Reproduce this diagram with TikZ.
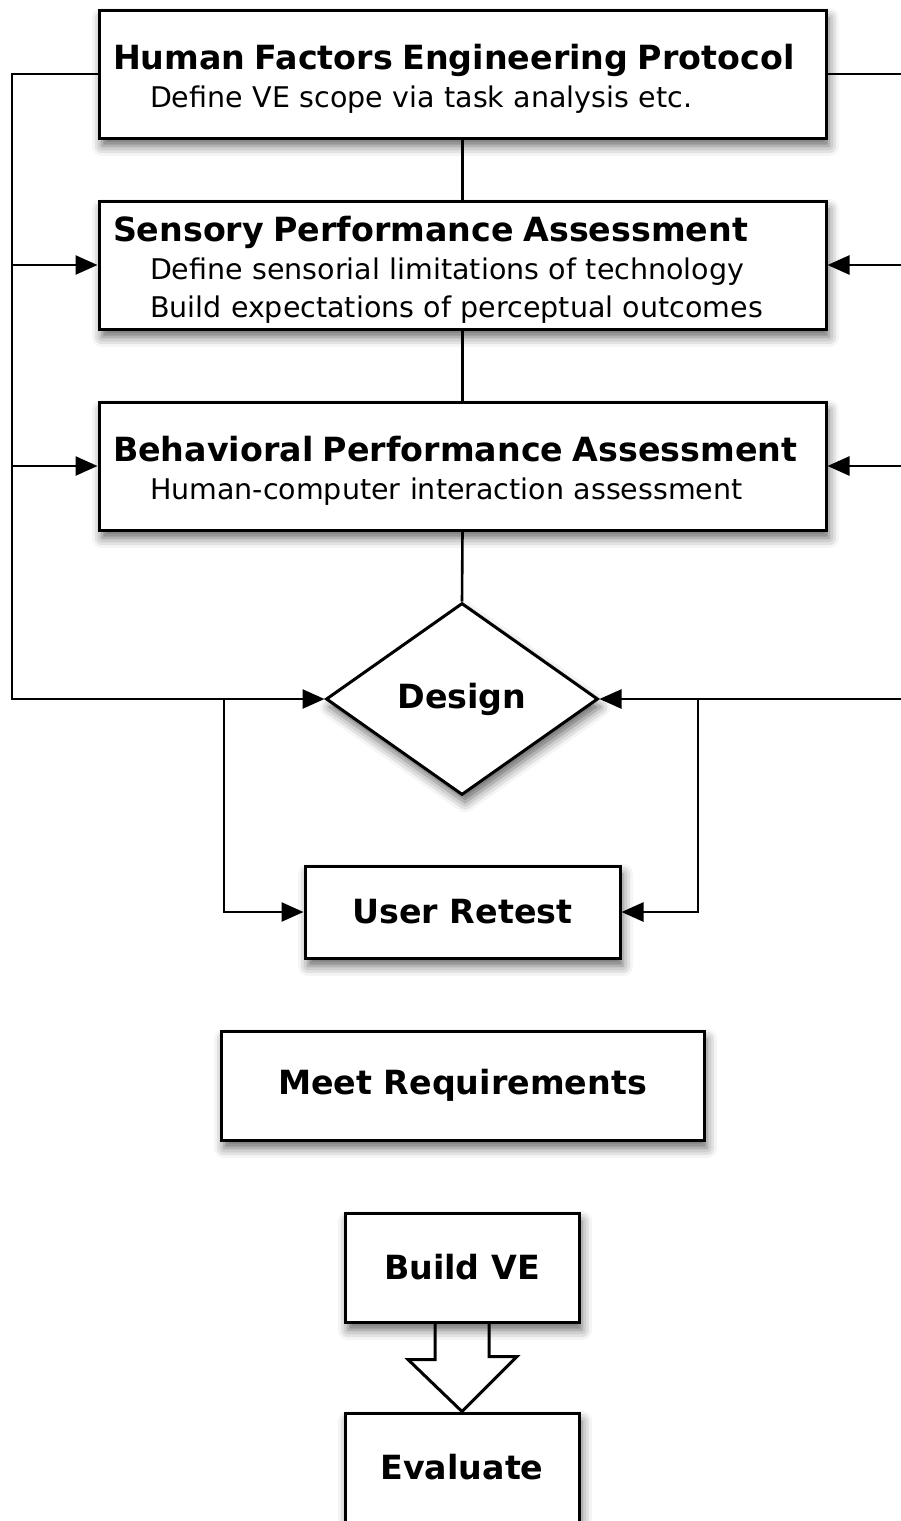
\documentclass[tikz,border=0pt]{standalone}
\usepackage{fontspec}
\setmainfont{DejaVu Sans}
\usetikzlibrary{shapes.geometric, arrows.meta, shadows.blur}
\setlength{\parindent}{0pt}
\tikzstyle{shade} = [blur shadow={shadow xshift=3pt, shadow yshift=-8pt, shadow blur radius=10pt, shadow opacity=60}]
\tikzstyle{process} = [rectangle, draw=black, line width=3pt, fill=white, inner sep=0pt, shade, font=\fontsize{33.3}{38}\selectfont\bfseries]
\tikzstyle{stage} = [process, minimum width=727pt, minimum height=128pt, inner xsep=14pt, text width=699pt, align=left, font=\fontsize{28.5}{38}\selectfont]
\tikzstyle{decision} = [diamond, draw=black, line width=3pt, fill=white, inner sep=0pt, minimum width=272pt, minimum height=192pt, shade, font=\fontsize{33.3}{38}\selectfont\bfseries]
\tikzstyle{link} = [line width=2.6pt]
\tikzstyle{arrow} = [link, -{Triangle[length=22pt, width=19pt]}]
\tikzstyle{hollow} = [line width=3pt, line join=miter]
\newcommand{\stagetitle}[1]{{\fontsize{33.3}{38}\selectfont\bfseries\rule{0pt}{35pt}#1}}
\newcommand{\stageitem}[1]{\hspace*{37pt}#1}

\begin{document}
\begin{tikzpicture}[x=1pt, y=-1pt]
\useasboundingbox (0,0) rectangle (901,1521);
\clip (0,0) rectangle (901,1521);

\node[stage] (hfe) at (462.5,74) {\stagetitle{Human Factors Engineering Protocol}\\ \stageitem{Define VE scope via task analysis etc.}};
\node[stage] (sensory) at (462.5,265) {\stagetitle{Sensory Performance Assessment}\\ \stageitem{Define sensorial limitations of technology}\\ \stageitem{Build expectations of perceptual outcomes}};
\node[stage] (behav) at (462.5,466) {\stagetitle{Behavioral Performance Assessment}\\ \stageitem{Human-computer interaction assessment}};
\node[decision] (design) at (462,699) {Design};
\node[process, minimum width=315pt, minimum height=92pt] (retest) at (462.5,912) {User Retest};
\node[process, minimum width=483pt, minimum height=109pt] (meetreq) at (462.5,1085.5) {Meet Requirements};
\node[process, minimum width=234pt, minimum height=109pt] (buildve) at (462,1267.5) {Build VE};
\node[process, minimum width=234pt, minimum height=109pt] (evaluate) at (462,1467.5) {Evaluate};

\coordinate (ltop) at (12,74);
\coordinate (lbot) at (12,699);
\coordinate (rtop) at (906,74);
\coordinate (rbot) at (906,699);
\coordinate (lsplit) at (224,699);
\coordinate (rsplit) at (698,699);

\draw[link] (hfe.south) -- (sensory.north);
\draw[link] (sensory.south) -- (behav.north);
\draw[link] (behav.south) -- (design.north);

\draw[arrow] (hfe.west) -- (ltop) -- (lbot) -- (design.west);
\draw[arrow] (ltop |- sensory.west) -- (sensory.west);
\draw[arrow] (ltop |- behav.west) -- (behav.west);

\draw[arrow] (hfe.east) -- (rtop) -- (rbot) -- (design.east);
\draw[arrow] (rtop |- sensory.east) -- (sensory.east);
\draw[arrow] (rtop |- behav.east) -- (behav.east);

\draw[arrow] (lsplit) |- (retest.west);
\draw[arrow] (rsplit) |- (retest.east);

\draw[hollow] ([xshift=-27pt]buildve.south) -- ++(0,36) -- ++(-27,0) -- (evaluate.north) -- ++(55,-55) -- ++(-28,0) -- ([xshift=27pt]buildve.south);
\end{tikzpicture}
\end{document}
